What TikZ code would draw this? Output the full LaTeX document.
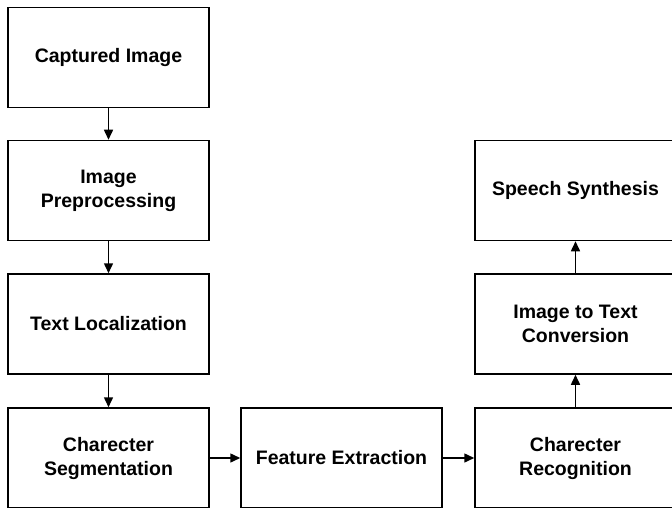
\documentclass[tikz,border=0pt]{standalone}
\usepackage{fontspec}
\setmainfont{Liberation Sans}
\usetikzlibrary{arrows.meta}
\begin{document}
\begin{tikzpicture}[x=1pt,y=-1pt,
  box/.style={draw=black, line width=1.5pt, fill=white, minimum width=201pt, minimum height=100pt, inner sep=0pt, align=center, font=\fontsize{19.5}{24}\selectfont\bfseries},
  conn/.style={line width=1.5pt, -{Triangle[length=10pt,width=9pt]}}]
\useasboundingbox (0,0) rectangle (672,508);
\clip (0,0) rectangle (672,508);
\fill[white] (0,0) rectangle (672,508);
\node[box] (cap) at (108.5,57.5) {Captured Image};
\node[box] (pre) at (108.5,190.5) {Image\\Preprocessing};
\node[box] (loc) at (108.5,324) {Text Localization};
\node[box] (seg) at (108.5,458) {Charecter\\Segmentation};
\node[box] (fea) at (341.5,458) {Feature Extraction};
\node[box] (rec) at (575.5,458) {Charecter\\Recognition};
\node[box] (itt) at (575.5,324) {Image to Text\\Conversion};
\node[box] (spe) at (575.5,190.5) {Speech Synthesis};
\draw[conn] (cap) -- (pre);
\draw[conn] (pre) -- (loc);
\draw[conn] (loc) -- (seg);
\draw[conn] (seg) -- (fea);
\draw[conn] (fea) -- (rec);
\draw[conn] (rec) -- (itt);
\draw[conn] (itt) -- (spe);
\end{tikzpicture}
\end{document}
